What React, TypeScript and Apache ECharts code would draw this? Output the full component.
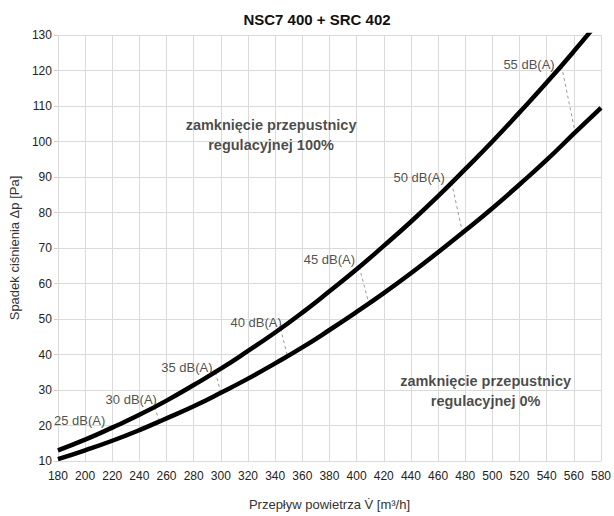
import React, { useEffect, useRef } from "react";
import * as echarts from "echarts";

const flows = [180, 200, 220, 240, 260, 280, 300, 320, 340, 360, 380, 400, 420, 440, 460, 480, 500, 520, 540, 560, 580];
const damper100 = [13.0, 16.0, 19.4, 23.0, 27.0, 31.4, 36.0, 41.0, 46.2, 51.8, 57.8, 64.0, 70.6, 77.4, 84.6, 92.2, 100.0, 108.2, 116.6, 125.4, 134.6];
const damper0 = [10.5, 13.0, 15.7, 18.7, 22.0, 25.4, 29.2, 33.2, 37.5, 42.0, 46.9, 52.0, 57.3, 62.9, 68.8, 74.9, 81.2, 87.9, 94.8, 102.2, 109.5];

const dbLabels = ["25 dB(A)", "30 dB(A)", "35 dB(A)", "40 dB(A)", "45 dB(A)", "50 dB(A)", "55 dB(A)"];
const dbLabelFlow = [196, 234, 275, 326, 380, 446, 527];
const dbLabelPa = [21.4, 27.4, 36.4, 49.0, 66.7, 89.8, 121.6];
// dashed connectors: [flow on upper, Pa on upper, flow on lower, Pa on lower]
const dbLines = [
  [251, 25.2, 255, 21.2],
  [296, 35.0, 300, 29.2],
  [344, 47.3, 349, 39.6],
  [402, 64.6, 409, 54.4],
  [470, 88.4, 478, 74.3],
  [551, 121.2, 561, 102.5],
];

const notes = ["zamknięcie przepustnicy\nregulacyjnej 100%", "zamknięcie przepustnicy\nregulacyjnej 0%"];
const noteFlow = [337, 495];
const notePa = [101.9, 29.6];

const xTicks = { min: 180, max: 580, interval: 20 };
const yTicks = { min: 10, max: 130, interval: 10 };

const FONT = "Liberation Sans, Arial, sans-serif";

export default function App() {
  const ref = useRef<HTMLDivElement>(null);
  useEffect(() => {
    const chart = echarts.init(ref.current!, null, { renderer: "svg" });
    const series: any[] = [
      {
        type: "line",
        data: flows.map((q, i) => [q, damper100[i]]),
        smooth: true,
        symbol: "none",
        lineStyle: { color: "#000", width: 4.5 },
        z: 5,
      },
      {
        type: "line",
        data: flows.map((q, i) => [q, damper0[i]]),
        smooth: true,
        symbol: "none",
        lineStyle: { color: "#000", width: 4.5 },
        z: 5,
      },
    ];
    dbLines.forEach((l) => {
      series.push({
        type: "line",
        data: [
          [l[0], l[1]],
          [l[2], l[3]],
        ],
        symbol: "none",
        lineStyle: { color: "#9a9a9a", width: 1, type: [3, 3] },
        z: 3,
      });
    });
    series.push({
      type: "scatter",
      symbolSize: 0,
      data: dbLabels.map((t, i) => ({ value: [dbLabelFlow[i], dbLabelPa[i]], name: t })),
      label: {
        show: true,
        position: "inside",
        formatter: (p: any) => p.name,
        color: "#222",
        fontSize: 13,
        fontFamily: FONT,
      },
      z: 6,
    });
    series.push({
      type: "scatter",
      symbolSize: 0,
      data: notes.map((t, i) => ({ value: [noteFlow[i], notePa[i]], name: t })),
      label: {
        show: true,
        position: "inside",
        formatter: (p: any) => p.name,
        color: "#1a1a1a",
        fontSize: 14.5,
        fontWeight: "bold",
        fontFamily: FONT,
        lineHeight: 20,
        align: "center",
      },
      z: 6,
    });

    chart.setOption({
      animation: false,
      backgroundColor: "#fff",
      title: {
        text: "NSC7 400 + SRC 402",
        left: 312,
        textAlign: "center",
        top: 7,
        textStyle: { fontSize: 15, fontWeight: "bold", color: "#111", fontFamily: FONT },
      },
      grid: { left: 49, right: 10, top: 35, bottom: 41, containLabel: false },
      xAxis: {
        type: "value",
        ...xTicks,
        name: "Przepływ powietrza V\u0307 [m³/h]",
        nameLocation: "middle",
        nameGap: 37,
        nameTextStyle: { fontSize: 13, color: "#333", fontFamily: FONT },
        axisLine: { show: false },
        axisTick: { show: false },
        axisLabel: { fontSize: 12, color: "#222", fontFamily: FONT, margin: 9 },
        splitLine: { show: true, lineStyle: { color: "#dadada", width: 1 } },
      },
      yAxis: {
        type: "value",
        ...yTicks,
        name: "Spadek ciśnienia Δp [Pa]",
        nameLocation: "middle",
        nameGap: 32,
        nameTextStyle: { fontSize: 13, color: "#333", fontFamily: FONT },
        axisLine: { show: false },
        axisTick: { show: true, length: 4, lineStyle: { color: "#cfcfcf" } },
        axisLabel: { fontSize: 12, color: "#222", fontFamily: FONT, margin: 6 },
        splitLine: { show: true, lineStyle: { color: "#dadada", width: 1 } },
      },
      series,
    });
    return () => chart.dispose();
  }, []);
  return <div ref={ref} style={{ width: 614, height: 516, position: "absolute", left: 0, top: 0 }} />;
}
